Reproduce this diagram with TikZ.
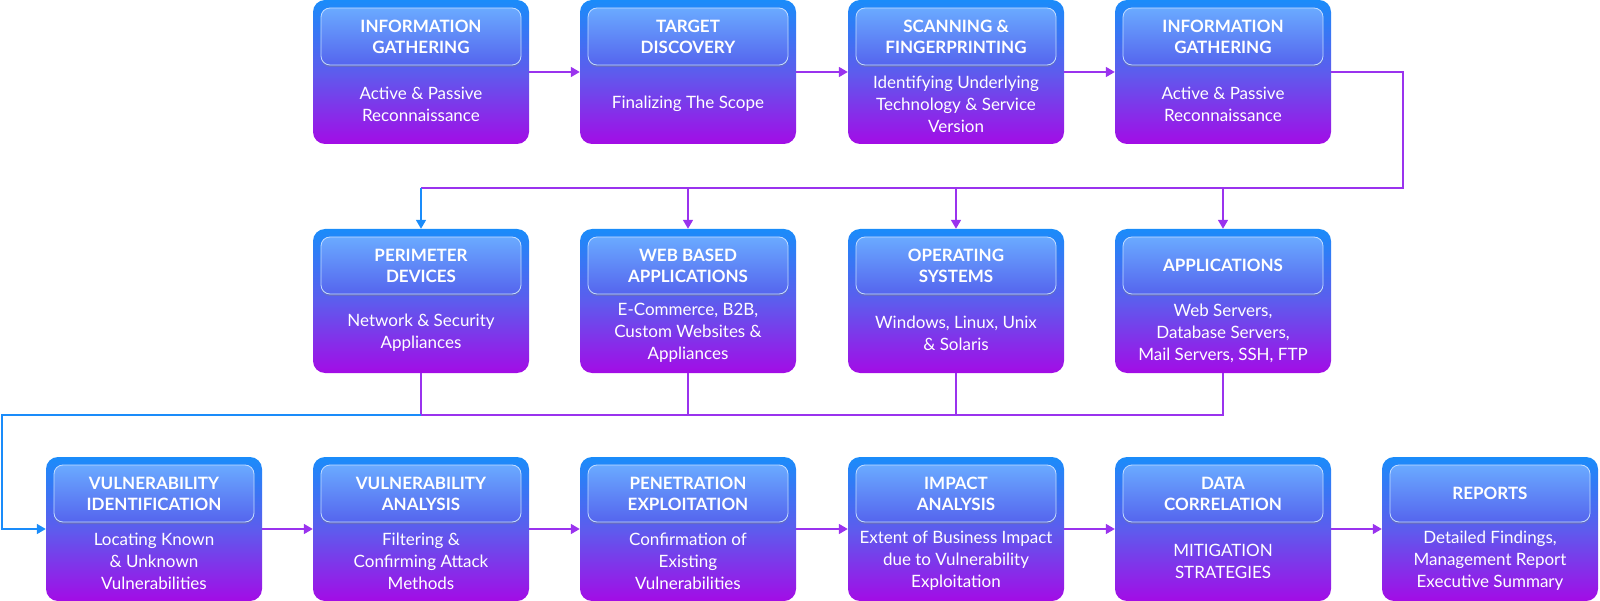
\documentclass[tikz,border=0pt]{standalone}
\usepackage{fontspec}
\setmainfont{Lato}
\usetikzlibrary{shadows,arrows.meta}
\definecolor{cblue}{HTML}{1A8CFA}
\definecolor{cpurp}{HTML}{A30CE6}
\definecolor{hblue}{HTML}{6AAAFF}
\definecolor{hpurp}{HTML}{5565EE}
\definecolor{lvio}{HTML}{9A33EE}
\tikzset{x=1pt,y=1pt,
 card/.style={rounded corners=12pt, minimum width=216pt, minimum height=144pt, inner sep=0pt,
   top color=cblue, bottom color=cpurp, middle color=hpurp!90!cpurp},
 head/.style={rounded corners=9pt, minimum width=200pt, minimum height=57pt, inner sep=0pt,
   top color=hblue, bottom color=hpurp, draw=white!60!hblue, line width=0.8pt,
   drop shadow={shadow xshift=0pt,shadow yshift=-2pt,opacity=0.35},
   text=white, font=\fontsize{17}{21}\selectfont\bfseries, align=center},
 body/.style={text=white, font=\fontsize{17}{22}\selectfont, align=center, inner sep=0pt},
 con/.style={draw=lvio, line width=1.6pt},
 arr/.style={con, -{Triangle[length=9pt,width=10pt]}},
}
\newcommand{\card}[5]{%
 \node[card] (#1) at (#2+108,-#3-72) {};
 \node[head] (#1h) at (#2+108,-#3-36.5) {#4};
 \node[body] (#1b) at (#2+108,-#3-104) {#5};}
\begin{document}
\begin{tikzpicture}
\useasboundingbox (0,0) rectangle (1600,-601);
\card{a1}{313}{0}{INFORMATION\\GATHERING}{Active \& Passive\\Reconnaissance}
\card{a2}{580}{0}{TARGET\\DISCOVERY}{Finalizing The Scope}
\card{a3}{848}{0}{SCANNING \&\\FINGERPRINTING}{Identifying Underlying\\Technology \& Service\\Version}
\card{a4}{1115}{0}{INFORMATION\\GATHERING}{Active \& Passive\\Reconnaissance}
\card{b1}{313}{229}{PERIMETER\\DEVICES}{Network \& Security\\Appliances}
\card{b2}{580}{229}{WEB BASED\\APPLICATIONS}{E-Commerce, B2B,\\Custom Websites \&\\Appliances}
\card{b3}{848}{229}{OPERATING\\SYSTEMS}{Windows, Linux, Unix\\\& Solaris}
\card{b4}{1115}{229}{APPLICATIONS}{Web Servers,\\Database Servers,\\Mail Servers, SSH, FTP}
\card{c1}{46}{457}{VULNERABILITY\\IDENTIFICATION}{Locating Known\\\& Unknown\\Vulnerabilities}
\card{c2}{313}{457}{VULNERABILITY\\ANALYSIS}{Filtering \&\\Confirming Attack\\Methods}
\card{c3}{580}{457}{PENETRATION\\EXPLOITATION}{Confirmation of\\Existing\\Vulnerabilities}
\card{c4}{848}{457}{IMPACT\\ANALYSIS}{Extent of Business Impact\\due to Vulnerability\\Exploitation}
\card{c5}{1115}{457}{DATA\\CORRELATION}{MITIGATION\\STRATEGIES}
\card{c6}{1382}{457}{REPORTS}{Detailed Findings,\\Management Report\\Executive Summary}
% row 1
\draw[arr] (a1.east) -- (a2.west);
\draw[arr] (a2.east) -- (a3.west);
\draw[arr] (a3.east) -- (a4.west);
\coordinate (r1) at (1403,-72);
\coordinate (r2) at (1403,-188);
\coordinate (l2) at (421,-188);
\draw[con] (a4.east) -- (r1) -- (r2) -- (l2);
\draw[arr, draw=cblue] (l2) -- (b1.north);
\draw[arr] (b2.north |- r2) -- (b2.north);
\draw[arr] (b3.north |- r2) -- (b3.north);
\draw[arr] (b4.north |- r2) -- (b4.north);
% row 2 to row 3
\coordinate (m4) at (1223,-415);
\coordinate (m0) at (2,-415);
\coordinate (m1) at (2,-529);
\draw[con] (b1.south) -- (b1.south |- m4);
\draw[con] (b2.south) -- (b2.south |- m4);
\draw[con] (b3.south) -- (b3.south |- m4);
\draw[con] (b4.south) -- (m4) -- (m0);
\draw[arr, draw=cblue] (b1.south |- m4) -- (m0) -- (m1) -- (c1.west);
% row 3
\draw[arr] (c1.east) -- (c2.west);
\draw[arr] (c2.east) -- (c3.west);
\draw[arr] (c3.east) -- (c4.west);
\draw[arr] (c4.east) -- (c5.west);
\draw[arr] (c5.east) -- (c6.west);
\end{tikzpicture}
\end{document}
